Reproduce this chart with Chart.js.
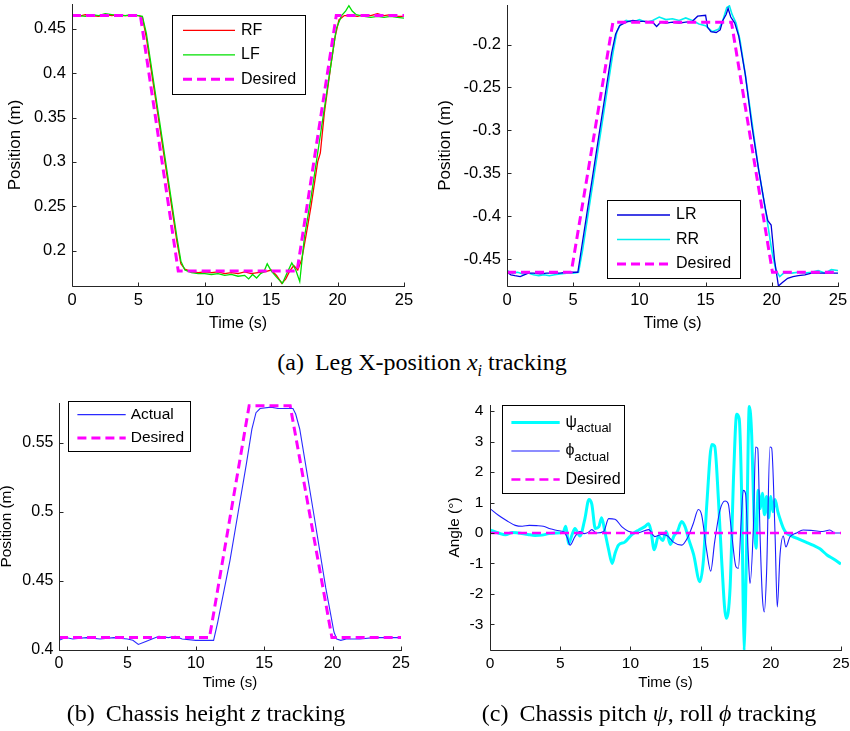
<!DOCTYPE html>
<html>
<head>
<meta charset="utf-8">
<script src="https://cdn.jsdelivr.net/npm/chart.js@4.4.1/dist/chart.umd.min.js"></script>
<style>
  html, body { margin: 0; padding: 0; background: #fff; }
  #fig { position: relative; width: 850px; height: 731px; overflow: hidden; }
  canvas { position: absolute; }
  .cap {
    position: absolute; height: 28px; line-height: 28px; text-align: center;
    font-family: "Liberation Serif", "Times New Roman", serif; font-size: 24px; color: #000;
    white-space: nowrap;
  }
  .cap .lbl { margin-right: 11px; }
  .cap sub { font-size: 16px; line-height: 0; }
</style>
</head>
<body>
<div id="fig">
  <canvas id="legFront" width="420" height="340" style="left:0;top:0"></canvas>
  <canvas id="legRear" width="430" height="340" style="left:420px;top:0"></canvas>
  <canvas id="height" width="420" height="310" style="left:0;top:390px"></canvas>
  <canvas id="angle" width="430" height="310" style="left:420px;top:390px"></canvas>
  <div class="cap" style="left:222px;width:400px;top:348px"><span class="lbl">(a)</span>Leg X-position <i>x<sub>i</sub></i> tracking</div>
  <div class="cap" style="left:6px;width:400px;top:699px"><span class="lbl">(b)</span>Chassis height <i>z</i> tracking</div>
  <div class="cap" style="left:449px;width:400px;top:699px"><span class="lbl">(c)</span>Chassis pitch <i>ψ</i>, roll <i>ϕ</i> tracking</div>
</div>
<script>
// ---- time ticks shared by all panels ----
const timeTicks = [0, 5, 10, 15, 20, 25];

// ---- (a) front legs ----
const frontTicks = [0.2, 0.25, 0.3, 0.35, 0.4, 0.45];
const desFrontT = [0, 5.15, 8.0, 16.95, 19.9, 25];
const desFrontX = [0.465, 0.465, 0.177, 0.177, 0.465, 0.465];
const rfT = [0, 0.5, 1, 1.5, 2, 2.5, 3, 3.5, 4, 4.5, 5, 5.3, 5.6, 6, 6.5, 7, 7.5, 7.9, 8.2, 8.5, 9, 9.5, 10, 10.5, 11, 11.5, 12, 12.5, 13, 13.5, 14, 14.5, 15, 15.4, 15.8, 16.1, 16.4, 16.7, 17, 17.3, 17.6, 18, 18.5, 18.7, 19, 19.5, 19.8, 20.1, 20.5, 21, 21.5, 22, 22.5, 23, 23.5, 24, 24.5, 25];
const rfX = [0.465, 0.464, 0.466, 0.465, 0.464, 0.466, 0.465, 0.466, 0.465, 0.465, 0.465, 0.463, 0.44, 0.40, 0.35, 0.30, 0.25, 0.21, 0.185, 0.179, 0.176, 0.175, 0.176, 0.175, 0.176, 0.174, 0.175, 0.174, 0.176, 0.174, 0.175, 0.176, 0.178, 0.172, 0.163, 0.168, 0.177, 0.183, 0.178, 0.19, 0.215, 0.25, 0.30, 0.31, 0.355, 0.41, 0.44, 0.46, 0.465, 0.465, 0.464, 0.466, 0.465, 0.467, 0.465, 0.466, 0.464, 0.464];
const lfT = [0, 0.5, 1, 1.5, 2, 2.5, 3, 3.5, 4, 4.5, 5, 5.3, 5.6, 6, 6.5, 7, 7.5, 7.9, 8.2, 8.5, 9, 9.5, 10, 10.5, 11, 11.5, 12, 12.5, 13, 13.3, 13.6, 13.9, 14.2, 14.45, 14.7, 15, 15.4, 15.85, 16.2, 16.55, 16.85, 17.15, 17.5, 18, 18.5, 19, 19.5, 19.9, 20.3, 20.6, 20.85, 21.1, 21.4, 22, 22.5, 23, 23.5, 24, 24.5, 25];
const lfX = [0.466, 0.465, 0.464, 0.466, 0.465, 0.467, 0.466, 0.465, 0.465, 0.466, 0.465, 0.464, 0.445, 0.405, 0.355, 0.305, 0.255, 0.215, 0.188, 0.178, 0.175, 0.174, 0.174, 0.173, 0.174, 0.172, 0.173, 0.171, 0.172, 0.168, 0.173, 0.169, 0.174, 0.176, 0.185, 0.177, 0.170, 0.163, 0.175, 0.186, 0.178, 0.165, 0.215, 0.26, 0.31, 0.36, 0.41, 0.45, 0.465, 0.470, 0.476, 0.470, 0.466, 0.464, 0.463, 0.464, 0.463, 0.464, 0.463, 0.462];

// ---- (a) rear legs ----
const rearTicks = [-0.45, -0.4, -0.35, -0.3, -0.25, -0.2];
const desRearT = [0, 4.85, 8.0, 16.95, 20.05, 25];
const desRearX = [-0.465, -0.465, -0.174, -0.174, -0.465, -0.465];
const lrT = [0, 0.3, 0.6, 1, 1.3, 1.6, 2, 2.5, 3, 3.5, 4, 4.5, 5, 5.35, 5.6, 6, 6.5, 7, 7.5, 7.9, 8.2, 8.5, 9, 9.5, 10, 10.5, 11, 11.3, 11.6, 12, 12.5, 13, 13.5, 14, 14.4, 15, 15.15, 15.4, 15.8, 16.1, 16.3, 16.55, 16.7, 16.9, 17.2, 17.5, 18, 18.5, 19, 19.5, 19.7, 19.95, 20.2, 20.5, 20.8, 21.2, 21.6, 22, 22.5, 23, 24, 25];
const lrX = [-0.465, -0.468, -0.469, -0.470, -0.468, -0.466, -0.466, -0.467, -0.466, -0.466, -0.466, -0.465, -0.465, -0.465, -0.44, -0.40, -0.35, -0.30, -0.25, -0.21, -0.188, -0.178, -0.174, -0.172, -0.173, -0.173, -0.174, -0.179, -0.174, -0.175, -0.174, -0.175, -0.174, -0.173, -0.167, -0.166, -0.180, -0.185, -0.186, -0.183, -0.172, -0.165, -0.158, -0.168, -0.175, -0.19, -0.235, -0.295, -0.345, -0.39, -0.405, -0.41, -0.45, -0.481, -0.477, -0.472, -0.470, -0.469, -0.468, -0.466, -0.466, -0.466];
const rrT = [0, 0.4, 0.8, 1.2, 1.6, 2, 2.4, 2.8, 3.2, 3.6, 4, 4.5, 5, 5.4, 5.7, 6.1, 6.6, 7.1, 7.6, 8, 8.3, 8.6, 9, 9.5, 10, 10.5, 11, 11.5, 12, 12.5, 13, 13.5, 14, 14.5, 15, 15.5, 16, 16.3, 16.6, 16.8, 17, 17.3, 17.6, 18, 18.5, 19, 19.5, 20, 20.3, 20.6, 20.9, 21.5, 22, 22.5, 23, 23.5, 24, 24.5, 25];
const rrX = [-0.463, -0.466, -0.465, -0.467, -0.466, -0.468, -0.469, -0.468, -0.469, -0.468, -0.467, -0.466, -0.466, -0.465, -0.44, -0.40, -0.35, -0.30, -0.25, -0.21, -0.185, -0.176, -0.172, -0.174, -0.171, -0.174, -0.172, -0.168, -0.171, -0.170, -0.172, -0.169, -0.172, -0.176, -0.178, -0.185, -0.182, -0.172, -0.157, -0.155, -0.165, -0.175, -0.195, -0.235, -0.29, -0.345, -0.39, -0.44, -0.462, -0.470, -0.466, -0.466, -0.465, -0.466, -0.465, -0.463, -0.466, -0.462, -0.463];

// ---- (b) chassis height ----
const heightTicks = [0.4, 0.45, 0.5, 0.55];
const desZT = [0, 11.0, 13.9, 16.9, 19.95, 25];
const desZ = [0.409, 0.409, 0.577, 0.577, 0.409, 0.409];
const actZT = [0, 0.5, 1, 2, 3, 4, 5, 5.4, 5.8, 6.3, 6.8, 7.3, 8, 8.5, 9, 10, 11, 11.3, 11.6, 12.5, 13.1, 13.7, 14.1, 14.4, 14.7, 15.5, 16, 16.5, 17.1, 17.3, 17.6, 18.6, 19.5, 20.1, 20.3, 20.6, 21, 22, 23, 24, 25];
const actZ = [0.407, 0.409, 0.408, 0.409, 0.408, 0.409, 0.408, 0.407, 0.404, 0.406, 0.408, 0.410, 0.409, 0.410, 0.408, 0.407, 0.407, 0.407, 0.42, 0.465, 0.50, 0.535, 0.56, 0.572, 0.575, 0.576, 0.575, 0.575, 0.575, 0.571, 0.56, 0.50, 0.445, 0.413, 0.408, 0.407, 0.408, 0.408, 0.409, 0.409, 0.409];

// ---- (c) pitch / roll ----
const angleTicks = [-3, -2, -1, 0, 1, 2, 3, 4];
const desAngT = [0, 25];
const desAng = [0, 0];
const psiT = [0, 0.6, 1.1, 1.6, 2, 2.7, 3.2, 3.7, 4.2, 4.7, 5.2, 5.4, 5.6, 5.85, 6.05, 6.4, 6.75, 7.05, 7.25, 7.5, 7.75, 7.95, 8.2, 8.45, 8.7, 8.9, 9.15, 9.6, 10.1, 10.6, 11, 11.3, 11.45, 11.7, 12, 12.3, 12.55, 12.85, 13.1, 13.35, 13.65, 13.9, 14.15, 14.5, 14.95, 15.2, 15.45, 15.8, 16, 16.27, 16.5, 16.82, 17.1, 17.36, 17.57, 17.75, 17.93, 18.1, 18.25, 18.47, 18.64, 18.8, 18.95, 19.1, 19.25, 19.4, 19.55, 19.7, 19.85, 20, 20.15, 20.3, 20.5, 20.7, 20.9, 21.1, 21.5, 22, 22.5, 23, 23.5, 24, 24.5, 25];
const psi = [0.1, 0, -0.06, 0.02, 0, -0.05, -0.08, -0.07, -0.02, 0, 0.02, 0.22, -0.35, -0.05, 0.15, -0.1, 0.45, 1.1, 0.95, 0.15, 0.2, 0.5, 0, -0.55, -1.0, -0.68, -0.4, -0.3, -0.05, 0.1, 0.2, 0.3, 0.1, -0.55, -0.1, -0.25, 0.05, -0.38, -0.1, 0.05, 0.38, 0.2, -0.2, -0.7, -1.6, -0.9, 1.0, 2.9, 2.85, 1.1, -0.9, -2.8, -1.8, 2.0, 3.9, 3.75, 1.1, -3.85, -1.1, 4.15, 3.2, 0.6, -0.5, 1.4, 0.8, 1.3, 0.6, 1.2, 0.5, 1.2, 0.7, 1.1, 0.7, 0.4, 0.15, 0, -0.1, -0.2, -0.3, -0.4, -0.52, -0.72, -0.86, -1.02];
const phiT = [0, 0.6, 1.2, 1.8, 2.3, 2.8, 3.3, 3.8, 4.3, 4.8, 5.25, 5.5, 5.7, 6.05, 6.4, 6.7, 7, 7.25, 7.6, 8.1, 8.45, 8.9, 9.4, 9.85, 10.5, 11.3, 11.75, 12.2, 12.6, 13.06, 13.65, 14.1, 14.48, 14.84, 15.08, 15.43, 15.72, 16, 16.38, 16.74, 16.97, 17.21, 17.52, 17.69, 17.9, 18.04, 18.2, 18.38, 18.52, 18.76, 18.92, 19.07, 19.23, 19.4, 19.54, 19.7, 19.94, 20.06, 20.3, 20.46, 20.66, 20.89, 21.07, 21.36, 21.83, 22.3, 23, 23.7, 24.2, 24.55, 25];
const phi = [0.8, 0.58, 0.4, 0.25, 0.22, 0.25, 0.24, 0.22, 0.14, 0.08, 0.04, -0.15, -0.4, -0.12, 0.05, -0.02, 0.02, 0.11, 0, 0.05, 0.47, 0.45, 0.2, 0.06, 0, 0.11, -0.12, -0.05, -0.08, -0.3, -0.4, -0.13, 0.31, 0.77, 0.58, -0.57, -1.25, -0.3, 0.75, 1.05, 0.96, 0, -1.11, -1.16, 0.5, 1.4, 1.3, -0.55, -1.66, 0.2, 2.82, 2.77, 0, -2.1, -2.59, -1.3, 2.82, 2.79, 0, -2.43, -0.7, -0.1, -0.46, -0.13, 0, 0.1, 0.08, 0.05, 0.1, 0, 0];

const FONT = "'Liberation Sans', Arial, sans-serif";
const pts = (ts, vs) => ts.map((t, i) => ({ x: t, y: vs[i] }));

// MATLAB-like axes: left and bottom lines only, with ticks pointing inward
const inwardAxes = {
  id: 'inwardAxes',
  afterDraw(chart) {
    const { ctx, chartArea: a, scales: { x, y } } = chart;
    const L = Math.round(a.left) + 0.5, B = Math.round(a.bottom) + 0.5;
    ctx.save();
    ctx.strokeStyle = '#262626';
    ctx.lineWidth = 1;
    ctx.beginPath();
    ctx.moveTo(L, Math.round(a.top));
    ctx.lineTo(L, B);
    ctx.lineTo(Math.round(a.right) + 1, B);
    x.ticks.forEach(t => {
      const px = Math.round(x.getPixelForValue(t.value)) + 0.5;
      ctx.moveTo(px, B); ctx.lineTo(px, B - 4);
    });
    y.ticks.forEach(t => {
      const py = Math.round(y.getPixelForValue(t.value)) + 0.5;
      ctx.moveTo(L, py); ctx.lineTo(L + 4, py);
    });
    ctx.stroke();
    ctx.restore();
  }
};

// boxed legend drawn inside the plot area
const boxLegend = {
  id: 'boxLegend',
  afterDatasetsDraw(chart, args, o) {
    const { ctx, chartArea: a } = chart;
    const x = Math.round(a.left + o.x), y = Math.round(a.top + o.y);
    ctx.save();
    ctx.fillStyle = '#fff';
    ctx.fillRect(x, y, o.w, o.h);
    ctx.strokeStyle = '#000';
    ctx.lineWidth = 1;
    ctx.strokeRect(x + 0.5, y + 0.5, o.w, o.h);
    chart.data.datasets.forEach((ds, i) => {
      const cy = y + o.first + i * o.step;
      ctx.beginPath();
      ctx.strokeStyle = ds.borderColor;
      ctx.lineWidth = ds.borderWidth;
      ctx.setLineDash(ds.borderDash || []);
      ctx.moveTo(x + o.s0, cy);
      ctx.lineTo(x + o.s1, cy);
      ctx.stroke();
      ctx.setLineDash([]);
      ctx.fillStyle = '#000';
      ctx.textAlign = 'left';
      ctx.textBaseline = 'middle';
      ctx.font = o.size + 'px ' + FONT;
      ctx.fillText(ds.label, x + o.tx, cy);
      if (ds.labelSub) {
        const w = ctx.measureText(ds.label).width;
        ctx.font = (o.size - 3) + 'px ' + FONT;
        ctx.fillText(ds.labelSub, x + o.tx + w, cy + 6);
      }
    });
    ctx.restore();
  }
};

function linearAxis(range, ticks, fit, title, font) {
  return {
    type: 'linear',
    min: range[0],
    max: range[1],
    grid: { display: false, drawTicks: false },
    border: { display: false },
    afterBuildTicks: s => { s.ticks = ticks.map(v => ({ value: v })); },
    afterFit: s => {
      if (s.isHorizontal()) s.height = fit.size; else s.width = fit.size;
      s.paddingTop = 0; s.paddingBottom = 0; s.paddingLeft = 0; s.paddingRight = 0;
    },
    ticks: {
      padding: fit.pad,
      color: '#000',
      font: { family: FONT, size: font.tick },
      maxRotation: 0,
      autoSkip: false,
      callback: v => String(v)
    },
    title: {
      display: true,
      text: title,
      color: '#000',
      font: { family: FONT, size: font.title },
      padding: fit.titlePad
    }
  };
}

function makeChart(id, datasets, cfg) {
  return new Chart(document.getElementById(id), {
    type: 'line',
    data: { datasets },
    options: {
      responsive: false,
      animation: false,
      devicePixelRatio: 1,
      layout: { padding: cfg.padding },
      elements: { point: { radius: 0 }, line: { tension: 0 } },
      plugins: { legend: { display: false }, tooltip: { enabled: false }, boxLegend: cfg.legend },
      scales: {
        x: linearAxis([0, 25], timeTicks, cfg.xFit, 'Time (s)', cfg.xFont),
        y: linearAxis(cfg.yRange, cfg.yTicks, cfg.yFit, cfg.yTitle, cfg.yFont)
      }
    },
    plugins: [boxLegend, inwardAxes]
  });
}

const dash = [9, 5];

makeChart('legFront', [
  { label: 'RF', data: pts(rfT, rfX), borderColor: '#ff0000', borderWidth: 1.3, order: 2 },
  { label: 'LF', data: pts(lfT, lfX), borderColor: '#00e000', borderWidth: 1.3, order: 1 },
  { label: 'Desired', data: pts(desFrontT, desFrontX), borderColor: '#ff00ff', borderWidth: 3, borderDash: dash, order: 0 }
], {
  padding: { top: 4, right: 16, left: 0, bottom: 0 },
  yRange: [0.160, 0.478], yTicks: frontTicks, yTitle: 'Position (m)',
  xFit: { size: 54, pad: 5, titlePad: { top: 0, bottom: 7 } },
  yFit: { size: 72, pad: 6, titlePad: { top: 5, bottom: 0 } },
  xFont: { tick: 16.5, title: 16 }, yFont: { tick: 16.5, title: 17 },
  legend: { x: 100, y: 11, w: 133, h: 79, first: 15.3, step: 24.5, s0: 11, s1: 63, tx: 69, size: 16 }
});

makeChart('legRear', [
  { label: 'LR', data: pts(lrT, lrX), borderColor: '#0000dd', borderWidth: 1.3, order: 1 },
  { label: 'RR', data: pts(rrT, rrX), borderColor: '#00f0f0', borderWidth: 1.6, order: 2 },
  { label: 'Desired', data: pts(desRearT, desRearX), borderColor: '#ff00ff', borderWidth: 3, borderDash: dash, order: 0 }
], {
  padding: { top: 5, right: 12, left: 0, bottom: 0 },
  yRange: [-0.481, -0.154], yTicks: rearTicks, yTitle: 'Position (m)',
  xFit: { size: 54, pad: 5, titlePad: { top: 0, bottom: 7 } },
  yFit: { size: 87, pad: 6, titlePad: { top: 15, bottom: 0 } },
  xFont: { tick: 16.5, title: 16 }, yFont: { tick: 16.5, title: 17 },
  legend: { x: 100, y: 195, w: 133, h: 78, first: 15, step: 24.5, s0: 10, s1: 63, tx: 69, size: 16 }
});

makeChart('height', [
  { label: 'Actual', data: pts(actZT, actZ), borderColor: '#2a2aff', borderWidth: 1.1, order: 1 },
  { label: 'Desired', data: pts(desZT, desZ), borderColor: '#ff00ff', borderWidth: 3, borderDash: dash, order: 0 }
], {
  padding: { top: 13, right: 19, left: 0, bottom: 0 },
  yRange: [0.4, 0.579], yTicks: heightTicks, yTitle: 'Position (m)',
  xFit: { size: 50, pad: 3.5, titlePad: { top: 0, bottom: 8 } },
  yFit: { size: 59, pad: 5.5, titlePad: { top: -2.5, bottom: 0 } },
  xFont: { tick: 16, title: 15 }, yFont: { tick: 16, title: 15.4 },
  legend: { x: 8.5, y: -2, w: 122, h: 50, first: 13.6, step: 23.4, s0: 9.4, s1: 57.7, tx: 62.7, size: 15.5 }
});

// the measured angles oscillate smoothly; monotone curves keep every peak at its sample
makeChart('angle', [
  { label: 'ψ', labelSub: 'actual', data: pts(psiT, psi), borderColor: '#00ffff', borderWidth: 3, order: 2, cubicInterpolationMode: 'monotone' },
  { label: 'ϕ', labelSub: 'actual', data: pts(phiT, phi), borderColor: '#1c1cff', borderWidth: 1.1, order: 1, cubicInterpolationMode: 'monotone' },
  { label: 'Desired', data: pts(desAngT, desAng), borderColor: '#ff00ff', borderWidth: 2.5, borderDash: dash, order: 0 }
], {
  padding: { top: 15, right: 9, left: 0, bottom: 0 },
  yRange: [-3.84, 4.2], yTicks: angleTicks, yTitle: 'Angle (°)',
  xFit: { size: 50, pad: 4.3, titlePad: { top: 0, bottom: 8 } },
  yFit: { size: 70, pad: 6.7, titlePad: { top: 25.8, bottom: 0 } },
  xFont: { tick: 15.5, title: 15 }, yFont: { tick: 15.5, title: 15.4 },
  legend: { x: 12.3, y: -0.5, w: 122, h: 88, first: 17.5, step: 28.5, s0: 9.4, s1: 57.7, tx: 63.4, size: 16 }
});
</script>
</body>
</html>
